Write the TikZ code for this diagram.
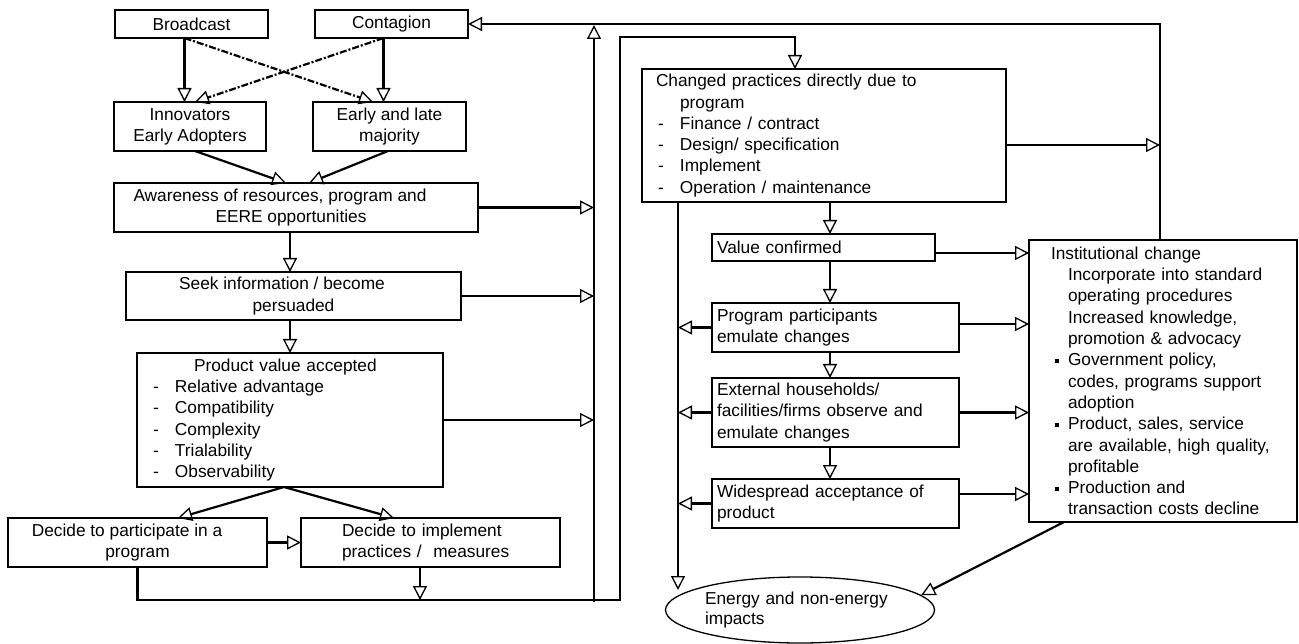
\documentclass[tikz,border=0pt]{standalone}
\usepackage{fontspec}
\setmainfont{Liberation Sans}
\usetikzlibrary{arrows.meta,shapes.geometric}
\newcommand{\dfont}{\fontsize{17.3}{21.3}\selectfont}
\newcommand{\myind}{\hspace*{17pt}}
\newcommand{\sqbul}{\makebox[17pt][l]{\hspace*{4pt}\rule[3pt]{4pt}{4pt}}}
\newcommand{\dashp}{\makebox[22pt][l]{-}}
\newcommand{\dashc}{\makebox[24pt][l]{\hspace*{2pt}-}}
\begin{document}
\begin{tikzpicture}[x=1pt,y=-1pt,
  every node/.style={font=\dfont},
  box/.style={draw,line width=1.3pt,inner ysep=0pt,outer sep=0pt},
  ar/.style={line width=2.2pt,-{Triangle[open,length=14pt,width=14pt,line width=1.3pt]}},
  ln/.style={line width=2.2pt},
  dsh/.style={ar,dash pattern=on 7pt off 2pt on 2pt off 2pt}]
\useasboundingbox (0,0) rectangle (1299,644);

% left column
\node[box,minimum width=153pt,minimum height=28pt] (bc) at (191.5,24) {Broadcast};
\node[box,minimum width=153pt,minimum height=28pt] (ct) at (391.5,24) {Contagion};
\node[box,minimum width=152pt,minimum height=49pt,align=center] (inn) at (190,126.5) {Innovators\\Early Adopters};
\node[box,minimum width=153pt,minimum height=49pt,align=center] (elm) at (389.5,126.5) {Early and late\\majority};
\node[box,minimum width=364pt,minimum height=49pt,align=center] (aw) at (296,207.5) {Awareness of resources, program and\hspace*{32pt}\\EERE opportunities\hspace*{10pt}};
\node[box,minimum width=335pt,minimum height=48pt,align=center] (sk) at (293.5,296) {Seek information / become\hspace*{23pt}\\persuaded};
\node[box,minimum width=306pt,minimum height=134pt,text width=274pt,inner xsep=16pt,align=left] (pv) at (290,420)
  {\hspace*{41pt}Product value accepted\\\dashp Relative advantage\\\dashp Compatibility\\\dashp Complexity\\\dashp Trialability\\\dashp Observability};
\node[box,minimum width=259pt,minimum height=49pt,align=center] (dp) at (137.5,542.5) {Decide to participate in a\hspace*{21pt}\\program};
\node[box,minimum width=259pt,minimum height=49pt,text width=177pt,inner xsep=41pt,align=left] (di) at (430.5,542.5) {Decide to implement\\practices /\ \ measures};

% right column
\node[box,minimum width=364pt,minimum height=133pt,text width=336pt,inner xsep=14pt,align=left] (cp) at (824,135.5)
  {Changed practices directly due to\\\hspace*{24pt}program\\\dashc Finance / contract\\\dashc Design/ specification\\\dashc Implement\\\dashc Operation / maintenance};
\node[box,minimum width=223pt,minimum height=27pt,text width=213pt,inner xsep=5pt,align=left] (vc) at (823.5,247.5) {Value confirmed};
\node[box,minimum width=247pt,minimum height=49pt,text width=237pt,inner xsep=5pt,align=left] (pp) at (835.5,327.5) {Program participants\\emulate changes};
\node[box,minimum width=247pt,minimum height=69pt,text width=237pt,inner xsep=5pt,align=left] (eh) at (835.5,412.5) {External households/\\facilities/firms observe and\\emulate changes};
\node[box,minimum width=247pt,minimum height=49pt,text width=237pt,inner xsep=5pt,align=left] (wa) at (835.5,503.5) {Widespread acceptance of\\product};
\node[box,minimum width=268pt,minimum height=282pt,text width=224pt,inner xsep=22pt,align=left] (ic) at (1163,381)
  {Institutional change\\
   \myind Incorporate into standard\\
   \myind operating procedures\\
   \myind Increased knowledge,\\
   \myind promotion \& advocacy\\
   \sqbul Government policy,\\
   \myind codes, programs support\\
   \myind adoption\\
   \sqbul Product, sales, service\\
   \myind are available, high quality,\\
   \myind profitable\\
   \sqbul Production and\\
   \myind transaction costs decline};
\node[draw,ellipse,line width=1.3pt,minimum width=269pt,minimum height=66pt,text width=190pt,inner sep=0pt,align=left,font=\fontsize{17.3}{19.5}\selectfont] (el) at (800,610) {Energy and non-energy\\impacts};

% helper coordinates
\coordinate (v1b) at (594,602);
\coordinate (v1t) at (594,25);
\coordinate (b2) at (620,600);
\coordinate (t2) at (620,37);

% left connectors
\draw[ar] ([xshift=-7pt]bc.south) -- ([xshift=-5.5pt]inn.north);
\draw[ar] ([xshift=-8pt]ct.south) -- ([xshift=-6pt]elm.north);
\draw[dsh] ([xshift=-7pt]bc.south) -- ([xshift=-16.5pt]elm.north);
\draw[dsh] ([xshift=-8pt]ct.south) -- ([xshift=5pt]inn.north);
\draw[ar] ([xshift=5pt]inn.south) -- ([xshift=-10pt]aw.north);
\draw[ar] ([xshift=-1.5pt]elm.south) -- ([xshift=13pt]aw.north);
\draw[ar] ([xshift=-6pt]aw.south) -- ([xshift=-3.5pt]sk.north);
\draw[ar] ([xshift=-3.5pt]sk.south) -- (pv.north);
\draw[ar] ([xshift=-6pt]pv.south) -- ([xshift=40.5pt]dp.north);
\draw[ar] ([xshift=-6pt]pv.south) -- ([xshift=-36.5pt]di.north);
\draw[ar] (dp.east) -- (di.west);
\draw[ar] ([xshift=-10.5pt]di.south) -- ++(0,33);
\draw[ar] (dp.south) |- (b2) -- (t2) -| ([xshift=-29pt]cp.north);
\draw[ar] (aw.east) -- (aw.east -| v1b);
\draw[ar] (sk.east) -- (sk.east -| v1b);
\draw[ar] (pv.east) -- (pv.east -| v1b);
\draw[ar] (v1b) -- (v1t);
\draw[ar] ([xshift=-3pt]ic.north) |- (ct.east);

% right connectors
\draw[ar] ([yshift=-9.5pt]cp.east) -- ++(154,0);
\draw[ar] ([xshift=6pt]cp.south) -- ([xshift=6.5pt]vc.north);
\draw[ar] ([yshift=-5.5pt]vc.east) -- ++(94,0);
\draw[ar] ([xshift=6.5pt]vc.south) -- ([xshift=-5.5pt]pp.north);
\draw[ar] ([xshift=-5.5pt]pp.south) -- ([xshift=-5.5pt]eh.north);
\draw[ar] ([xshift=-5.5pt]eh.south) -- ([xshift=-5.5pt]wa.north);
\draw[ar] ([yshift=3.5pt]pp.east) -- ++(70,0);
\draw[ar] (eh.east) -- ++(70,0);
\draw[ar] ([yshift=9.5pt]wa.east) -- ++(70,0);
\draw[ar] ([xshift=-146pt]cp.south) -- ++(0,388);
\draw[ar] (pp.west) -- ++(-34,0);
\draw[ar] (eh.west) -- ++(-34,0);
\draw[ar] (wa.west) -- ++(-34,0);
\draw[ar] ([xshift=-99pt]ic.south) -- (el.7);
\end{tikzpicture}
\end{document}
